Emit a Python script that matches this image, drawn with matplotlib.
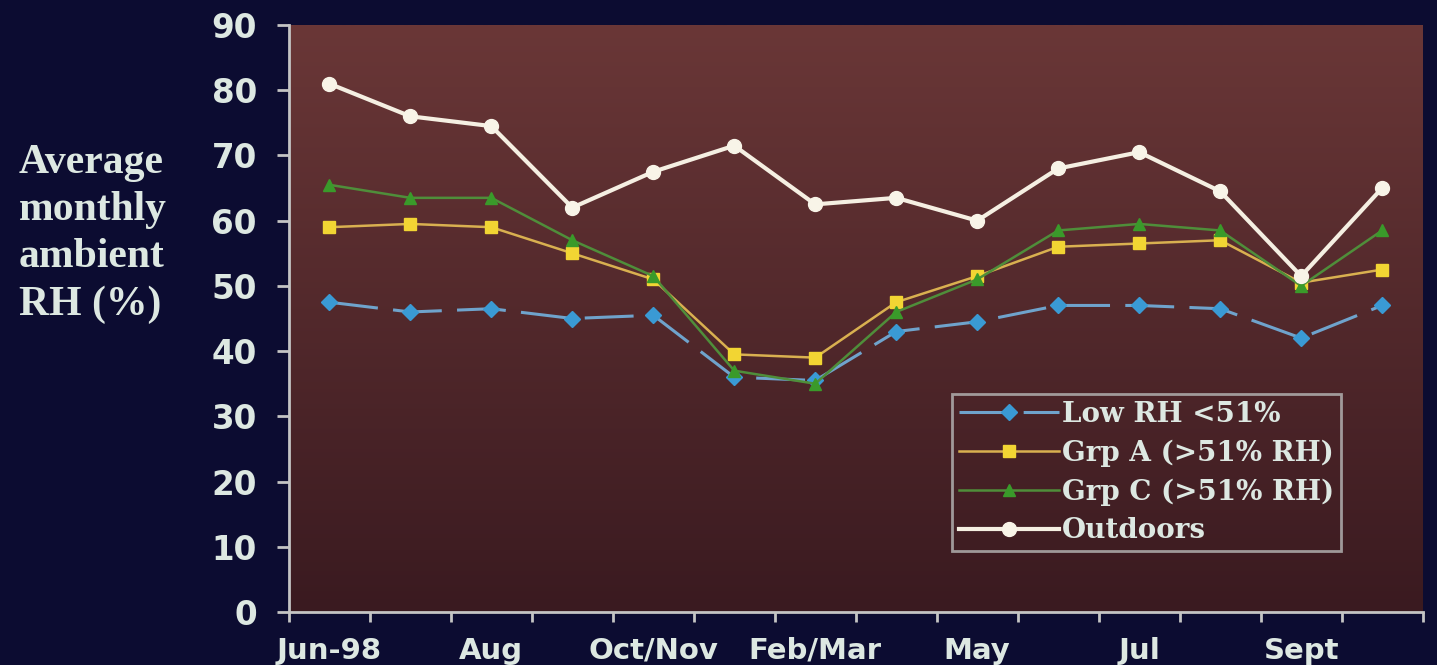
import numpy as np
import matplotlib
matplotlib.use("Agg")
import matplotlib.pyplot as plt
from matplotlib.colors import LinearSegmentedColormap

# categories (only every other one gets a label on the axis)
months = ['Jun-98', 'Jul', 'Aug', 'Sep', 'Oct/Nov', 'Dec/Jan', 'Feb/Mar',
          'Apr', 'May', 'Jun', 'Jul', 'Aug', 'Sept', 'Oct']
tick_labels = ['Jun-98', 'Aug', 'Oct/Nov', 'Feb/Mar', 'May', 'Jul', 'Sept']

low_rh = [47.5, 46, 46.5, 45, 45.5, 36, 35.5, 43, 44.5, 47, 47, 46.5, 42, 47]
grp_a = [59, 59.5, 59, 55, 51, 39.5, 39, 47.5, 51.5, 56, 56.5, 57, 50.5, 52.5]
grp_c = [65.5, 63.5, 63.5, 57, 51.5, 37, 35, 46, 51, 58.5, 59.5, 58.5, 50, 58.5]
outdoors = [81, 76, 74.5, 62, 67.5, 71.5, 62.5, 63.5, 60, 68, 70.5, 64.5, 51.5, 65]

bg = '#0c0c31'
txt = '#dde8e2'

fig = plt.figure(figsize=(14.37, 6.65), dpi=100, facecolor=bg)
ax = fig.add_axes([0.201, 0.0797, 0.789, 0.8827])
ax.set_facecolor('#4e2629')

# maroon gradient inside the plot area
cmap = LinearSegmentedColormap.from_list('maroon', ['#3a1a20', '#6a3737'])
grad = np.linspace(0, 1, 256).reshape(-1, 1)
ax.imshow(grad, cmap=cmap, origin='lower', aspect='auto',
          extent=[0, 1, 0, 1], transform=ax.transAxes, zorder=0)

x = np.arange(len(months))

ax.plot(x, low_rh, color='#6fa3cc', lw=2.2, dashes=(16, 5),
        marker='D', ms=8, mfc='#3a9ad4', mec='#3a9ad4', label='Low RH <51%', zorder=3)
ax.plot(x, grp_a, color='#d9b050', lw=1.8,
        marker='s', ms=9, mfc='#f2d533', mec='#f2d533', label='Grp A (>51% RH)', zorder=4)
ax.plot(x, grp_c, color='#4f8e3a', lw=1.8,
        marker='^', ms=9, mfc='#3a9a2a', mec='#3a9a2a', label='Grp C (>51% RH)', zorder=5)
ax.plot(x, outdoors, color='#f5efe2', lw=3,
        marker='o', ms=10, mfc='#f8f4e8', mec='#f8f4e8', label='Outdoors', zorder=6)

ax.set_xlim(-0.5, len(months) - 0.5)
ax.set_ylim(0, 90)
ax.set_yticks(range(0, 91, 10))

ax.set_xticks(x[::2])
ax.set_xticklabels(tick_labels)
ax.set_xticks(np.arange(-0.5, len(months), 1), minor=True)

for s in ['top', 'right']:
    ax.spines[s].set_visible(False)
for s in ['left', 'bottom']:
    ax.spines[s].set_color('#c4c4c4')
    ax.spines[s].set_linewidth(2)

ax.tick_params(axis='y', colors='#c4c4c4', length=9, width=2, pad=14,
               labelcolor=txt, labelsize=23.5)
ax.tick_params(axis='x', which='major', length=0, pad=18, labelcolor=txt, labelsize=21)
ax.tick_params(axis='x', which='minor', colors='#c4c4c4', length=7, width=2)
for lab in ax.get_xticklabels() + ax.get_yticklabels():
    lab.set_family('DejaVu Sans')
    lab.set_fontweight('bold')

fig.text(19 / 1437, 1 - 234 / 665, 'Average\nmonthly\nambient\nRH (%)',
         ha='left', va='center', color=txt, fontsize=30, fontweight='bold',
         family='Liberation Serif', linespacing=1.32)

leg = ax.legend(loc='upper left', bbox_to_anchor=(0.585, 0.372), borderaxespad=0,
                fancybox=False, handlelength=3.6, handletextpad=0.1, labelspacing=0.42,
                borderpad=0.25, prop={'family': 'DejaVu Serif', 'weight': 'bold', 'size': 20})
leg.get_frame().set_facecolor('none')
leg.get_frame().set_edgecolor('#b8b8b8')
leg.get_frame().set_linewidth(2)
for t in leg.get_texts():
    t.set_color(txt)

fig.savefig('out.png', dpi=100, facecolor=bg)
